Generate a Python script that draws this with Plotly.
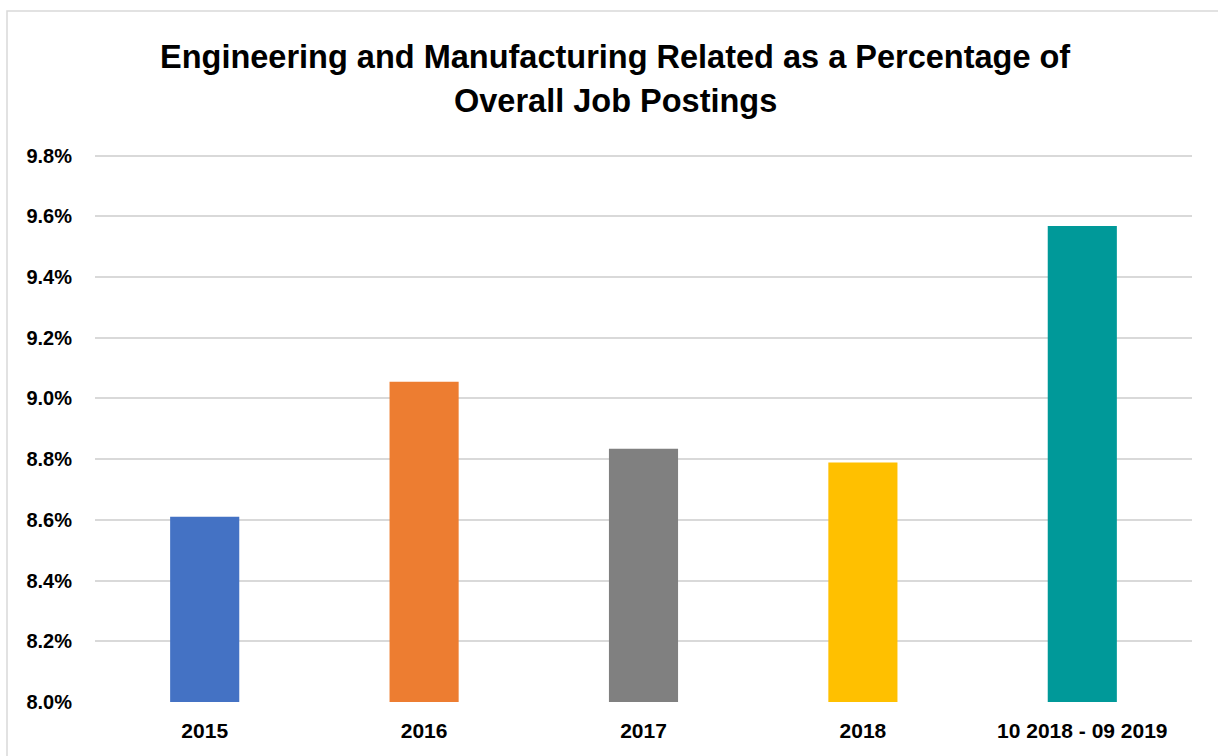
import plotly.graph_objects as go

categories = ["2015", "2016", "2017", "2018", "10 2018 - 09 2019"]
values = [8.61, 9.055, 8.834, 8.789, 9.568]
colors = ["#4472C4", "#ED7D31", "#808080", "#FFC000", "#009999"]
y_ticks = [8.0, 8.2, 8.4, 8.6, 8.8, 9.0, 9.2, 9.4, 9.6, 9.8]
y_tick_labels = ["8.0%", "8.2%", "8.4%", "8.6%", "8.8%", "9.0%", "9.2%", "9.4%", "9.6%", "9.8%"]
title_lines = ["Engineering and Manufacturing Related as a Percentage of", "Overall Job Postings"]

FONT = "Liberation Sans"

fig = go.Figure(go.Bar(x=categories, y=values, marker=dict(color=colors, line=dict(width=0)), width=0.315))

L, R, T, B = 95, 26, 154, 54
W, H = 1218, 756
pw, ph = W - L - R, H - T - B

title_centers_px = [57, 101]
annotations = [
    dict(text="<b>" + t + "</b>", xref="paper", yref="paper",
         x=(615 - L) / pw, y=(H - B - cy) / ph, xanchor="center", yanchor="middle",
         showarrow=False, font=dict(family=FONT, size=32.5, color="black"))
    for t, cy in zip(title_lines, title_centers_px)
]

fig.update_layout(
    width=W, height=H,
    margin=dict(l=L, r=R, t=T, b=B),
    paper_bgcolor="white", plot_bgcolor="white",
    showlegend=False,
    annotations=annotations,
    xaxis=dict(
        showgrid=False, showline=False, zeroline=False, ticks="",
        tickfont=dict(family=FONT, size=21, color="black", weight="bold"),
        ticklabelstandoff=14,
    ),
    yaxis=dict(
        range=[8.0, 9.805], tickvals=y_ticks, ticktext=y_tick_labels,
        showgrid=True, gridcolor="#D9D9D9", gridwidth=1.5,
        showline=False, zeroline=False, ticks="",
        tickfont=dict(family=FONT, size=20, color="black", weight="bold"),
        ticklabelstandoff=22,
    ),
    shapes=[dict(
        type="rect", xref="paper", yref="paper",
        x0=(7 - L) / pw, x1=(W + 5 - L) / pw,
        y0=(H - B - (H + 5)) / ph, y1=(H - B - 11) / ph,
        line=dict(color="#D9D9D9", width=1.5), fillcolor="rgba(0,0,0,0)", layer="below",
    )],
)

fig.write_html("out.html")
